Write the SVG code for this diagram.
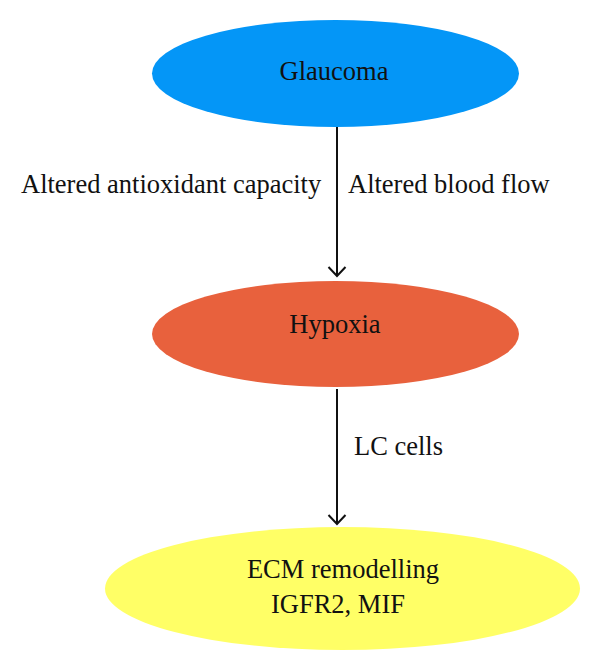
<svg xmlns="http://www.w3.org/2000/svg" width="600" height="669" viewBox="0 0 600 669">
<style>
text{font-family:"Liberation Serif","Times New Roman",serif;font-size:26.5px;fill:#111}
.c{text-anchor:middle}
.ln{stroke:#111;stroke-width:2;fill:none}
</style>
<defs>
<marker id="ah" markerUnits="userSpaceOnUse" markerWidth="14" markerHeight="20" refX="10.5" refY="10" orient="auto" viewBox="0 0 14 20">
<path d="M1.5,1.5 L10.5,10 L1.5,18.5" fill="none" stroke="#111" stroke-width="2"/>
</marker>
</defs>
<rect width="600" height="669" fill="#fff"/>
<g id="connectors">
<line class="ln" x1="337" y1="127" x2="337" y2="276" marker-end="url(#ah)"/>
<line class="ln" x1="337" y1="389" x2="337" y2="524" marker-end="url(#ah)"/>
<text x="21" y="193">Altered antioxidant capacity</text>
<text x="348" y="193">Altered blood flow</text>
<text x="354" y="455">LC cells</text>
</g>
<g id="glaucoma">
<ellipse cx="335.5" cy="73.5" rx="183.5" ry="53.5" fill="#0496F7"/>
<text class="c" x="334" y="80">Glaucoma</text>
</g>
<g id="hypoxia">
<ellipse cx="335.5" cy="334" rx="183.5" ry="53" fill="#E8613D"/>
<text class="c" x="335" y="333">Hypoxia</text>
</g>
<g id="ecm">
<ellipse cx="342.5" cy="588.5" rx="237.5" ry="61.5" fill="#FFFF66"/>
<text class="c" x="343" y="578">ECM remodelling</text>
<text class="c" x="338" y="613">IGFR2, MIF</text>
</g>
</svg>
